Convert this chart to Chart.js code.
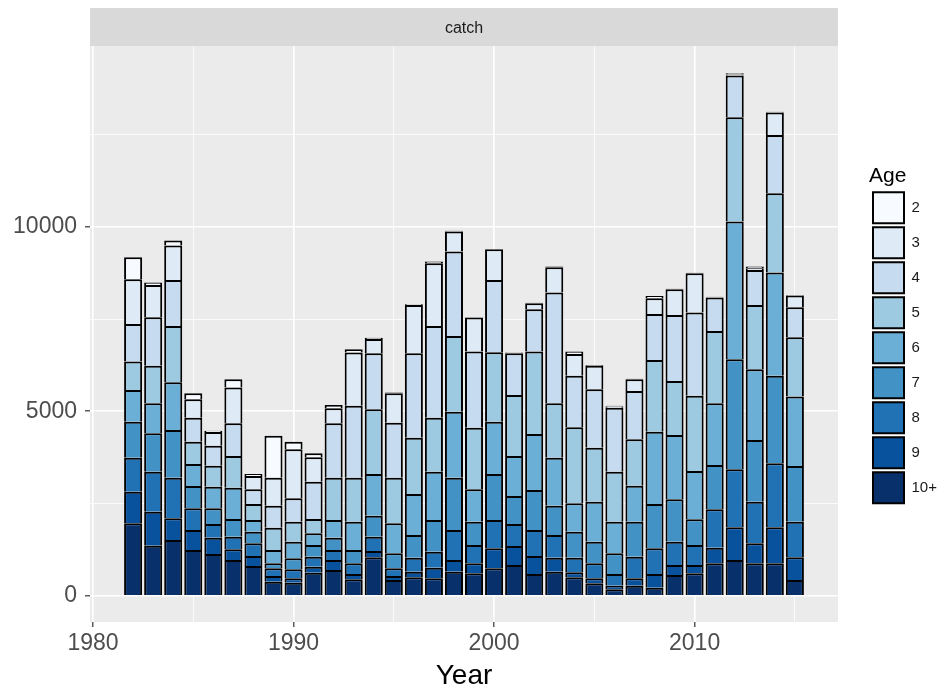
<!DOCTYPE html>
<html>
<head>
<meta charset="utf-8">
<script src="https://cdn.jsdelivr.net/npm/chart.js@4.4.0/dist/chart.umd.min.js"></script>
<style>
  html, body { margin: 0; padding: 0; background: #ffffff; }
  #wrap { width: 942px; height: 696px; }
</style>
</head>
<body>
<div id="wrap"><canvas id="catchChart" width="942" height="696"></canvas></div>
<script>
// years on the x axis
var years = [1982, 1983, 1984, 1985, 1986, 1987, 1988, 1989, 1990, 1991,
             1992, 1993, 1994, 1995, 1996, 1997, 1998, 1999, 2000, 2001,
             2002, 2003, 2004, 2005, 2006, 2007, 2008, 2009, 2010, 2011,
             2012, 2013, 2014, 2015];

// catch numbers by age group (one value per year)
var catchAge2    = [597, 64, 135, 163, 36, 226, 54, 1139, 208, 108, 91, 90, 30, 20, 20, 45, 21, 12, 10, 10, 14, 18, 63, 14, 22, 14, 63, 16, 14, 10, 33, 46, 19, 14];
var catchAge3    = [1211, 876, 931, 497, 371, 967, 362, 759, 1329, 660, 406, 1437, 388, 795, 1310, 1699, 542, 922, 831, 9, 162, 686, 588, 642, 33, 317, 425, 696, 1067, 10, 31, 45, 606, 316];
var catchAge4    = [1021, 1311, 1247, 650, 542, 886, 398, 596, 633, 1012, 1474, 1953, 1519, 1492, 2287, 2486, 2286, 2061, 1961, 1130, 1148, 3001, 1401, 1581, 1735, 1310, 1247, 1790, 2250, 904, 1129, 949, 1581, 814];
var catchAge5    = [769, 1021, 1528, 606, 570, 859, 433, 606, 542, 389, 1147, 1193, 1753, 1238, 1527, 1464, 2052, 1672, 1880, 1654, 2233, 1473, 2060, 1464, 1356, 1256, 1943, 1464, 2043, 1961, 2829, 1744, 2151, 1608];
var catchAge6    = [858, 814, 1292, 596, 587, 849, 317, 361, 452, 316, 479, 768, 1130, 813, 1112, 1310, 1790, 877, 1419, 1085, 1518, 1302, 769, 1085, 858, 977, 1962, 1744, 1310, 1672, 3733, 1916, 2793, 1880];
var catchAge7    = [976, 1039, 1293, 606, 425, 479, 316, 136, 298, 317, 335, 361, 569, 407, 615, 859, 1419, 632, 1247, 759, 1085, 795, 705, 587, 561, 949, 1202, 1148, 696, 1202, 2983, 1672, 2377, 1510];
var catchAge8    = [922, 1084, 1102, 588, 370, 344, 343, 208, 244, 271, 271, 290, 389, 208, 379, 434, 813, 497, 769, 596, 705, 615, 397, 407, 316, 587, 696, 633, 543, 1040, 1572, 1130, 1735, 967];
var catchAge9    = [859, 922, 588, 542, 443, 289, 272, 153, 118, 162, 271, 144, 171, 108, 154, 289, 316, 271, 542, 516, 488, 379, 136, 136, 99, 199, 370, 271, 225, 424, 886, 542, 976, 614];
var catchAge10p  = [1961, 1356, 1509, 1238, 1130, 967, 804, 380, 352, 624, 696, 443, 1040, 425, 497, 470, 651, 606, 741, 831, 587, 651, 497, 334, 172, 271, 217, 560, 606, 877, 967, 877, 877, 425];

// legend labels and fill colours (Blues palette), bottom of the stack first
var ageLabels = ['10+', '9', '8', '7', '6', '5', '4', '3', '2'];
var ageColors = ['#08306B', '#08519C', '#2171B5', '#4292C6', '#6BAED6', '#9ECAE1', '#C6DBEF', '#DEEBF7', '#F7FBFF'];
var ageSeries = [catchAge10p, catchAge9, catchAge8, catchAge7, catchAge6, catchAge5, catchAge4, catchAge3, catchAge2];

// axis breaks (labelled ones are the multiples of 10 years / 5000)
var xTickValues = [1980, 1985, 1990, 1995, 2000, 2005, 2010, 2015];
var yTickValues = [0, 2500, 5000, 7500, 10000, 12500];

var fontFam = "'Liberation Sans', Arial, sans-serif";

var datasets = ageSeries.map(function(series, i) {
  return {
    label: ageLabels[i],
    data: years.map(function(y, j) { return { x: y, y: series[j] }; }),
    backgroundColor: ageColors[i],
    borderColor: '#000000',
    borderWidth: 2,
    borderSkipped: 'start',
    barPercentage: 0.9,
    categoryPercentage: 1.0
  };
});

function setTicks(values) {
  return function(scale) {
    scale.ticks = values.map(function(v) { return { value: v }; });
  };
}

// grey panel and grey strip behind the plot
var panelPlugin = {
  id: 'panelBg',
  beforeDraw: function(chart) {
    var a = chart.chartArea;
    var c = chart.ctx;
    var t = chart.titleBlock;
    c.save();
    c.fillStyle = '#EBEBEB';
    c.fillRect(a.left, a.top, a.right - a.left, a.bottom - a.top);
    c.fillStyle = '#D9D9D9';
    c.fillRect(a.left, t.top, a.right - a.left, t.height);
    c.restore();
  }
};

var ctx = document.getElementById('catchChart').getContext('2d');
var chart = new Chart(ctx, {
  type: 'bar',
  data: { datasets: datasets },
  plugins: [panelPlugin],
  options: {
    responsive: false,
    animation: false,
    layout: { padding: { top: 8, left: 0, right: 0, bottom: 0 } },
    plugins: {
      title: {
        display: true,
        text: 'catch',
        fullSize: false,
        color: '#1A1A1A',
        font: { family: fontFam, size: 16, weight: 'normal' },
        padding: { top: 10.5, bottom: 8.3 }
      },
      legend: {
        display: true,
        position: 'right',
        align: 'start',
        reverse: true,
        maxWidth: 73,
        title: {
          display: true,
          text: 'Age',
          position: 'start',
          color: '#000000',
          font: { family: fontFam, size: 21 },
          padding: { top: 158, bottom: -3 }
        },
        labels: {
          boxWidth: 31,
          boxHeight: 31,
          padding: 4,
          color: '#1A1A1A',
          font: { family: fontFam, size: 15 }
        }
      },
      tooltip: { enabled: false }
    },
    scales: {
      x: {
        type: 'linear',
        stacked: true,
        offset: false,
        min: 1979.85,
        max: 2017.15,
        border: { display: false },
        grid: {
          offset: false,
          color: '#FFFFFF',
          lineWidth: function(c) { return c.tick && c.tick.value % 10 === 0 ? 1.6 : 0.8; },
          tickColor: function(c) { return c.tick && c.tick.value % 10 === 0 ? '#333333' : 'rgba(0,0,0,0)'; },
          tickWidth: 1.2,
          tickLength: 5
        },
        afterBuildTicks: setTicks(xTickValues),
        ticks: {
          autoSkip: false,
          maxRotation: 0,
          padding: 3,
          color: '#4D4D4D',
          font: { family: fontFam, size: 23 },
          callback: function(v) { return v % 10 === 0 ? String(v) : ''; }
        },
        title: {
          display: true,
          text: 'Year',
          color: '#000000',
          font: { family: fontFam, size: 28 },
          padding: { top: 0, bottom: 3 }
        },
        afterFit: function(s) { s.height = 74; }
      },
      y: {
        stacked: true,
        min: -713,
        max: 14900,
        border: { display: false },
        grid: {
          color: '#FFFFFF',
          lineWidth: function(c) { return c.tick && c.tick.value % 5000 === 0 ? 1.6 : 0.8; },
          tickColor: function(c) { return c.tick && c.tick.value % 5000 === 0 ? '#333333' : 'rgba(0,0,0,0)'; },
          tickWidth: 1.2,
          tickLength: 5
        },
        afterBuildTicks: setTicks(yTickValues),
        ticks: {
          autoSkip: false,
          padding: 8,
          color: '#4D4D4D',
          font: { family: fontFam, size: 23 },
          callback: function(v) { return v % 5000 === 0 ? String(v) : ''; }
        },
        afterFit: function(s) { s.width = 90; }
      },
      gap: {
        position: 'right',
        display: true,
        border: { display: false },
        grid: { display: false },
        ticks: { display: false },
        afterFit: function(s) { s.width = 31; }
      }
    }
  }
});
</script>
</body>
</html>
